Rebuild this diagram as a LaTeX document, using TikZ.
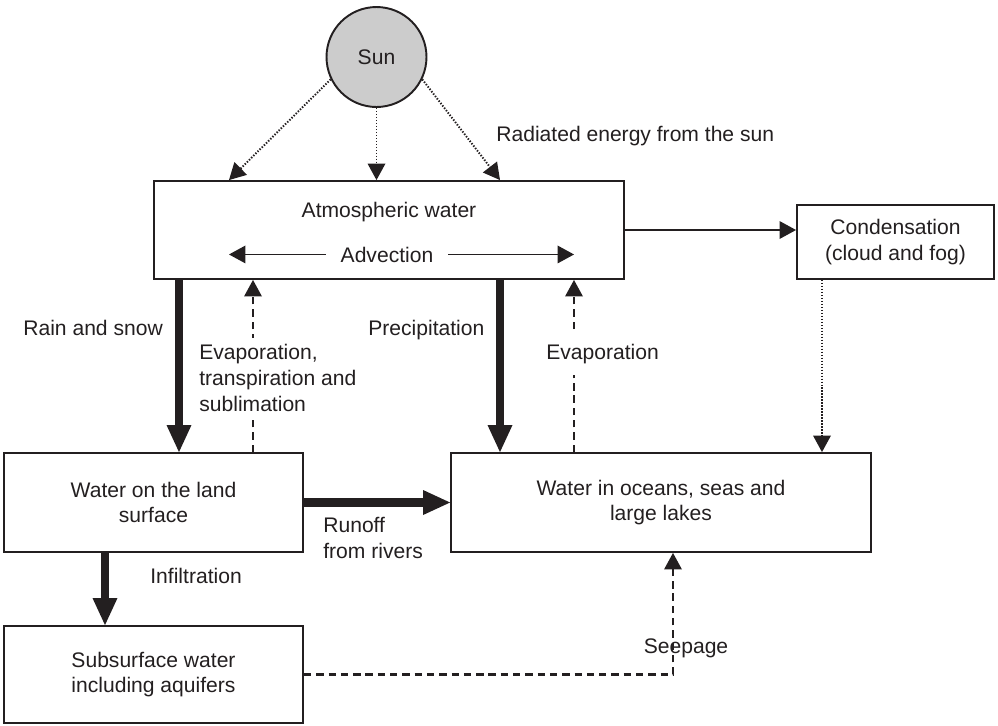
\documentclass[tikz,border=0pt]{standalone}
\usepackage{fontspec}
\setmainfont{Liberation Sans}
\usetikzlibrary{arrows.meta}
\definecolor{ink}{RGB}{35,31,32}
\definecolor{sunfill}{RGB}{204,204,204}

\begin{document}
\begin{tikzpicture}[x=0.02cm, y=-0.02cm,
  every node/.style={text=ink, font=\fontsize{12}{14.7}\selectfont},
  box/.style={draw=ink, line width=1.1pt, inner sep=0pt, align=center},
  lbl/.style={inner sep=0pt, align=left},
  heavy/.style={draw=ink, line width=5.1pt,
    -{Triangle[length=0.54cm, width=0.5cm, line width=0pt]}},
  flow/.style={draw=ink, line width=1pt,
    -{Triangle[length=0.33cm, width=0.36cm, line width=0pt]}},
  dashflow/.style={flow, line width=1.2pt, dash pattern=on 4.2pt off 2.8pt},
  dotflow/.style={flow, line width=1.1pt, dash pattern=on 0.8pt off 0.9pt},
]
\useasboundingbox (0,0) rectangle (998,725);

% column positions of the vertical flows
\coordinate (ray1) at (229,0);
\coordinate (ray3) at (500,0);
\coordinate (advL) at (229,0);
\coordinate (advR) at (574,0);
\coordinate (xrain) at (179,0);
\coordinate (xevl) at (253,0);
\coordinate (xpre) at (500,0);
\coordinate (xevo) at (574,0);
\coordinate (xcon) at (822,0);
\coordinate (xinf) at (105,0);
\coordinate (xsee) at (673,0);

% stores
\node[circle, draw=ink, line width=1.1pt, fill=sunfill, minimum size=2cm, inner sep=0pt]
  (sun) at (376.5,57) {Sun};
\node[box, minimum width=9.4cm, minimum height=1.96cm] (atm) at (389,230) {};
\node[lbl, anchor=base] (atmlbl) at (389,217) {Atmospheric water};
\node[lbl, anchor=base, inner xsep=0.29cm] (adv) at (387,262) {Advection};
\node[box, minimum width=3.94cm, minimum height=1.48cm] (cond) at (895.5,242)
  {Condensation\\(cloud and fog)};
\node[box, minimum width=5.98cm, minimum height=1.98cm] (land) at (153.5,502.5)
  {Water on the land\\surface};
\node[box, minimum width=8.4cm, minimum height=1.98cm] (ocean) at (661,502.5)
  {Water in oceans, seas and\\large lakes};
\node[box, minimum width=5.98cm, minimum height=1.94cm] (sub) at (153.5,674.5)
  {Subsurface water\\including aquifers};

% solar radiation
\draw[dotflow] (sun.206) -- (ray1 |- atm.north);
\draw[dotflow] (sun.south) -- (sun.south |- atm.north);
\draw[dotflow] (sun.334) -- (ray3 |- atm.north);
\node[lbl, anchor=base west] (radlbl) at (496,141) {Radiated energy from the sun};

% advection inside the atmosphere
\draw[flow] (adv.west) -- (adv.west -| advL);
\draw[flow] (adv.east) -- (adv.east -| advR);

% condensation
\draw[flow] (atm.east) -- (atm.east -| cond.west);
\draw[dotflow] (cond.south -| xcon) -- (ocean.north -| xcon);

% exchanges with the surface
\draw[heavy] (atm.south -| xrain) -- (land.north -| xrain);
\draw[dashflow] (land.north -| xevl) -- (atm.south -| xevl);
\draw[heavy] (atm.south -| xpre) -- (ocean.north -| xpre);
\draw[dashflow] (ocean.north -| xevo) -- (atm.south -| xevo);
\draw[heavy] (land.east) -- (ocean.west);
\draw[heavy] (land.south -| xinf) -- (sub.north -| xinf);
\draw[dashflow] (sub.east) -| (ocean.south -| xsee);

% flow labels
\node[lbl, anchor=base west] (rainlbl) at (23,335) {Rain and snow};
\node[lbl, anchor=north west, fill=white, inner xsep=0pt, inner ysep=0.12cm]
  (evllbl) at (199,338) {Evaporation,\\transpiration and\\sublimation};
\node[lbl, anchor=base west] (prelbl) at (368,335) {Precipitation};
\node[lbl, anchor=base west, fill=white, inner xsep=0pt, inner ysep=0.24cm]
  (evolbl) at (546,359) {Evaporation};
\node[lbl, anchor=north west] (runlbl) at (323,517) {Runoff\\from rivers};
\node[lbl, anchor=base west] (inflbl) at (150,583) {Infiltration};
\node[lbl, anchor=base] (seelbl) at (686,653) {Seepage};
\end{tikzpicture}
\end{document}
